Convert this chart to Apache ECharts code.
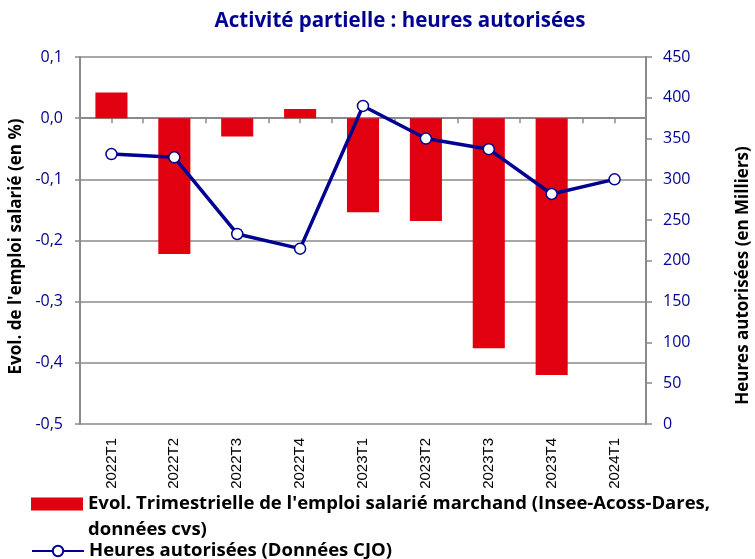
<!DOCTYPE html>
<html>
	<head>
		<meta charset="utf-8">
		<title></title>
		<script src="https://cdn.jsdelivr.net/npm/echarts@6/dist/echarts.min.js"></script>
	</head>
	<body style="margin:0">
		<div id="main" style="width: 755px;height:559px;"></div>
		<script>
		var trimestres = ['2022T1', '2022T2', '2022T3', '2022T4', '2023T1', '2023T2', '2023T3', '2023T4', '2024T1'];
		var evolEmploi = [0.042, -0.222, -0.030, 0.015, -0.154, -0.168, -0.376, -0.420, null];
		var heures = [331, 327, 233, 215, 390, 350, 337, 282, 300];
		var nomBarres = "Evol. Trimestrielle de l'emploi salarié marchand (Insee-Acoss-Dares, données cvs)";
		var nomLigne = 'Heures autorisées (Données CJO)';

		var bleu = '#000091';
		var gris = '#8a8a8a';
		var police = '"Open Sans", sans-serif';

		var myChart = echarts.init(document.getElementById('main'));

		// axe des x "technique" posé sur le zéro de l'axe gauche (traits + ligne)
		function axeZero(centre) {
			return {
				type: 'category',
				data: trimestres,
				position: 'bottom',
				axisLine: { show: true, onZero: true, onZeroAxisIndex: 0, lineStyle: { color: gris, width: 2 } },
				axisTick: { show: true, length: 5, alignWithLabel: centre, lineStyle: { color: gris, width: 1.5 } },
				axisLabel: { show: false },
				splitLine: { show: false }
			};
		}

		var texteLegende = { color: '#000', fontSize: 18.5, fontWeight: 'bold', fontFamily: police, lineHeight: 26 };

		myChart.setOption({
			animation: false,
			title: {
				text: 'Activité partielle : heures autorisées',
				left: 395,
				textAlign: 'center',
				top: 6,
				textStyle: { color: bleu, fontSize: 20.5, fontWeight: 'bold', fontFamily: police }
			},
			grid: { left: 80, right: 109, top: 57, bottom: 135, outerBoundsMode: 'none', containLabel: false },
			legend: [
				{
					data: [nomBarres],
					orient: 'vertical',
					left: 31,
					top: 465,
					padding: 0,
					icon: 'rect',
					itemWidth: 52,
					itemHeight: 13,
					formatter: function (n) { return '\n' + n.replace(', ', ',\n'); },
					textStyle: texteLegende
				},
				{
					data: [nomLigne],
					orient: 'vertical',
					left: 31,
					top: 538,
					padding: 0,
					itemWidth: 52,
					itemHeight: 13,
					textStyle: texteLegende
				}
			],
			xAxis: [
				{
					type: 'category',
					data: trimestres,
					position: 'bottom',
					axisLine: { show: false, onZero: false },
					axisTick: { show: false },
					axisLabel: { rotate: 90, margin: 14, color: '#000', fontSize: 15, fontFamily: '"Liberation Sans", Arial, sans-serif' }
				},
				axeZero(false),
				axeZero(true)
			],
			yAxis: [
				{
					type: 'value',
					min: -0.5,
					max: 0.1,
					interval: 0.1,
					name: "Evol. de l'emploi salarié (en %)",
					nameLocation: 'middle',
					nameGap: 51,
					nameTextStyle: { color: '#000', fontSize: 17, fontWeight: 'bold', fontFamily: police, padding: [0, 12, 0, 0] },
					axisLine: { show: true, lineStyle: { color: gris, width: 2 } },
					axisTick: { show: true, length: 5, lineStyle: { color: gris, width: 1.5 } },
					axisLabel: {
						margin: 17,
						color: bleu,
						fontSize: 16,
						fontFamily: police,
						formatter: function (v) { return v.toFixed(1).replace('.', ','); }
					},
					splitLine: { show: true, lineStyle: { color: gris, width: 1.5 } }
				},
				{
					type: 'value',
					min: 0,
					max: 450,
					interval: 50,
					position: 'right',
					name: 'Heures autorisées (en Milliers)',
					nameLocation: 'middle',
					nameGap: 89,
					nameTextStyle: { color: '#000', fontSize: 17, fontWeight: 'bold', fontFamily: police, padding: [0, 70, 0, 0] },
					axisLine: { show: true, lineStyle: { color: gris, width: 2 } },
					axisTick: { show: true, length: 6, lineStyle: { color: gris, width: 1.5 } },
					axisLabel: { margin: 17, color: bleu, fontSize: 16, fontFamily: police },
					splitLine: { show: false }
				}
			],
			series: [
				{
					name: nomBarres,
					type: 'bar',
					xAxisIndex: 0,
					yAxisIndex: 0,
					barWidth: '51%',
					itemStyle: { color: '#e1000f' },
					data: evolEmploi
				},
				{
					name: nomLigne,
					type: 'line',
					xAxisIndex: 0,
					yAxisIndex: 1,
					symbol: 'circle',
					symbolSize: 11,
					lineStyle: { color: bleu, width: 3.5 },
					itemStyle: { color: '#fff', borderColor: bleu, borderWidth: 1.5 },
					data: heures
				}
			]
		});
		</script>
	</body>
</html>
